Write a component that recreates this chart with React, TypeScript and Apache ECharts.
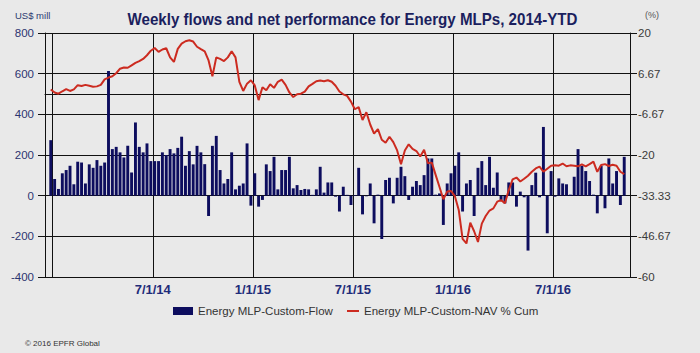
import React, { useEffect, useRef } from "react";
import * as echarts from "echarts";

// Weekly categories: slot 0 and the last slot are empty margins, data starts at slot 1
const firstSlotDate = "2013-12-18";

// Weekly net flows, US$ mill (left axis)
const flows = [
  273, 82, 33, 110, 126, 147, 56, 167, 163, 60, 154, 137, 175, 147, 163, 613, 229, 240, 213, 188,
  245, 114, 360, 240, 213, 257, 170, 170, 170, 213, 200, 229, 208, 235, 290, 147, 219, 154, 245, 213,
  155, -100, 245, 294, 126, 60, 82, 213, 31,
  49, 60, 257, -49, 110, -54, -21, 154, 121, 191, 31, 126, 126, 191, 36, 52, 28, 33, 31, 4,
  31, 142, 15, 65, 65, -5, -78, 44, 4, -46, 3, 137, -92, -3, 60, -136, 5, -213, 77, 88,
  -38, 88, 142, 96, -21, 44, 72, 52, 101, 183,
  183, 5, 11, -144, 60, 110, 147, 213, -78, 60, 77, -100, 137, 170, 52, 191, 39, 114, -21, -38,
  65, 65, -54, 20, -8, -270, 52, 113, -8, 338, -185, 121, -5, 85, 60, 56, 5, 93, 229, 147,
  121, 72, 5, -87, 147, -62, 183, 60, 121, -46, 191,
];

// Cumulative NAV performance, % (right axis)
const navCum = [
  1.5, 0.5, 0.1, 0.9, 1.6, 1.0, 1.5, 2.9, 2.6, 3.0, 2.7, 2.4, 2.5, 3.0, 4.8, 5.4, 5.8, 6.8, 8.3, 8.7,
  8.6, 9.4, 10.2, 10.8, 11.5, 12.7, 14.2, 15.1, 13.8, 14.6, 15.0, 12.0, 10.5, 14.8, 16.5, 17.3, 17.6, 17.2, 15.5, 14.7,
  14.0, 11.0, 5.8, 12.0, 11.5, 10.8, 12.0, 14.0, 12.0, 4.0,
  1.0, 3.4, 4.5, 2.8, -2.0, 2.2, 1.2, 3.2, 2.0, 4.0, 4.7, 3.0, 0.5, -1.0, -0.1, 0.1, 0.8, 2.5, 3.3, 4.2,
  4.4, 4.2, 4.5, 4.0, 2.7, 0.8, -0.1, -0.6, -2.5, -5.0, -4.3, -8.5, -6.0, -10.0, -13.0, -11.5, -15.0, -16.0, -14.0, -15.8,
  -18.5, -23.0, -18.5, -16.5, -18.0, -18.7, -20.5, -18.3, -22.7,
  -22.5, -26.5, -30.5, -34.5, -32.0, -31.8, -33.5, -38.0, -47.5, -49.0, -42.2, -45.0, -48.5, -42.5, -40.0, -38.2, -37.5, -35.3, -34.8, -35.8,
  -31.5, -28.0, -27.4, -28.7, -27.8, -26.8, -25.5, -24.4, -23.8, -25.5, -24.5, -23.5, -23.4, -23.5, -22.8, -23.7, -23.4, -23.5, -23.7, -23.1,
  -23.7, -23.0, -22.2, -25.5, -23.3, -23.0, -23.6, -23.2, -23.5, -25.5, -26.3,
];

// Date gridlines and their labels (the first one has no label in the original)
const axisDates = ["2014-01-01", "2014-07-01", "2015-01-01", "2015-07-01", "2016-01-01", "2016-07-01"];
const axisTickLabels = ["", "7/1/14", "1/1/15", "7/1/15", "1/1/16", "7/1/16"];

const flowName = "Energy MLP-Custom-Flow";
const navName = "Energy MLP-Custom-NAV % Cum";

const FONT = "'Liberation Sans', Arial, sans-serif";
const DAY = 86400000;

function toUTC(s: string) {
  const [y, m, d] = s.split("-").map(Number);
  return Date.UTC(y, m - 1, d);
}

export default function App() {
  const ref = useRef<HTMLDivElement>(null);

  useEffect(() => {
    document.body.style.margin = "0";
    if (!ref.current) return;
    const chart = echarts.init(ref.current, null, { renderer: "svg" });

    const nSlots = flows.length + 2;
    const start = toUTC(firstSlotDate);
    const slotTimes: number[] = [];
    const categories: string[] = [];
    for (let k = 0; k < nSlots; k++) {
      const t = start + k * 7 * DAY;
      slotTimes.push(t);
      categories.push(new Date(t).toISOString().slice(0, 10));
    }

    // boundary axis: nSlots + 1 positions (left edges of slots)
    const boundaryData: string[] = [];
    for (let b = 0; b <= nSlots; b++) boundaryData.push("b" + b);
    const gridSet = new Set<number>();
    const labelMap: Record<number, string> = {};
    axisDates.forEach((ds, i) => {
      const t = toUTC(ds);
      let best = 0;
      let bestD = Infinity;
      slotTimes.forEach((st, k) => {
        const d = Math.abs(st - t);
        if (d < bestD) {
          bestD = d;
          best = k;
        }
      });
      gridSet.add(best);
      labelMap[best] = axisTickLabels[i];
    });

    const barData = [null, ...flows, null];
    const lineData = [null, ...navCum, null];

    const option: any = {
      animation: false,
      backgroundColor: "#e9e9e9",
      textStyle: { fontFamily: FONT },
      grid: { left: 45, right: 70, top: 33, bottom: 76, containLabel: false },
      legend: [
        {
          left: 168,
          top: 300,
          itemWidth: 20,
          itemHeight: 8,
          selectedMode: false,
          data: [{ name: flowName, icon: "rect" }],
          textStyle: { fontSize: 11.5, color: "#333", fontFamily: FONT },
        },
        {
          left: 342,
          top: 300,
          itemWidth: 12,
          itemHeight: 2,
          selectedMode: false,
          data: [{ name: navName, icon: "rect", itemStyle: { color: "#cc2b20" } }],
          textStyle: { fontSize: 11.5, color: "#333", fontFamily: FONT },
        },
      ],
      xAxis: [
        {
          type: "category",
          data: categories,
          boundaryGap: true,
          show: false,
        },
        {
          type: "category",
          data: boundaryData,
          boundaryGap: false,
          position: "bottom",
          axisLine: { show: true, lineStyle: { color: "#111", width: 1 } },
          axisTick: {
            show: true,
            length: 4,
            interval: (i: number) => gridSet.has(i),
            lineStyle: { color: "#111", width: 1 },
          },
          splitLine: {
            show: true,
            interval: (i: number) => gridSet.has(i),
            lineStyle: { color: "#111", width: 1 },
          },
          axisLabel: {
            interval: (i: number) => !!labelMap[i],
            formatter: (_v: string, i: number) => labelMap[i] || "",
            color: "#1f2c7a",
            fontWeight: "bold",
            fontSize: 13,
            fontFamily: FONT,
            margin: 6,
          },
        },
      ],
      yAxis: [
        {
          type: "value",
          min: -400,
          max: 800,
          interval: 200,
          position: "left",
          axisLine: { show: true, lineStyle: { color: "#111", width: 1 } },
          axisTick: { show: true, length: 7, lineStyle: { color: "#111", width: 1 } },
          splitLine: { show: true, lineStyle: { color: "#111", width: 1 } },
          axisLabel: { color: "#2c3470", fontSize: 11.5, fontFamily: FONT, margin: 11 },
        },
        {
          type: "value",
          min: -60,
          max: 20,
          interval: 13.33334,
          position: "right",
          axisLine: { show: true, lineStyle: { color: "#111", width: 1 } },
          axisTick: { show: true, length: 7, lineStyle: { color: "#111", width: 1 } },
          splitLine: { show: false },
          axisLabel: {
            color: "#3a3a3a",
            fontSize: 11.5,
            fontFamily: FONT,
            margin: 8,
            formatter: (v: number) => String(Math.round(v * 100) / 100),
          },
        },
      ],
      series: [
        {
          name: flowName,
          type: "bar",
          xAxisIndex: 0,
          yAxisIndex: 0,
          data: barData,
          barCategoryGap: "24%",
          itemStyle: { color: "#0d0d5e" },
          z: 2,
        },
        {
          name: navName,
          type: "line",
          xAxisIndex: 0,
          yAxisIndex: 1,
          data: lineData,
          symbol: "none",
          lineStyle: { color: "#cc2b20", width: 2 },
          itemStyle: { color: "#cc2b20" },
          z: 3,
        },
      ],
      graphic: [
        {
          type: "text",
          x: 352.5,
          y: 19,
          scaleX: 0.89,
          style: {
            text: "Weekly flows and net performance for Energy MLPs, 2014-YTD",
            font: `bold 17px ${FONT}`,
            fill: "#1b1f5e",
            textAlign: "center",
            textVerticalAlign: "middle",
          },
        },
        {
          type: "text",
          x: 15,
          y: 15,
          style: {
            text: "US$ mill",
            font: `9.5px ${FONT}`,
            fill: "#2b3a70",
            textAlign: "left",
            textVerticalAlign: "middle",
          },
        },
        {
          type: "text",
          x: 645,
          y: 15,
          style: {
            text: "(%)",
            font: `9px ${FONT}`,
            fill: "#555",
            textAlign: "left",
            textVerticalAlign: "middle",
          },
        },
        {
          type: "text",
          x: 25,
          y: 343,
          style: {
            text: "© 2016 EPFR Global",
            font: `8px ${FONT}`,
            fill: "#333",
            textAlign: "left",
            textVerticalAlign: "middle",
          },
        },
      ],
    };

    chart.setOption(option);
    return () => chart.dispose();
  }, []);

  return <div ref={ref} style={{ width: 700, height: 353 }} />;
}
